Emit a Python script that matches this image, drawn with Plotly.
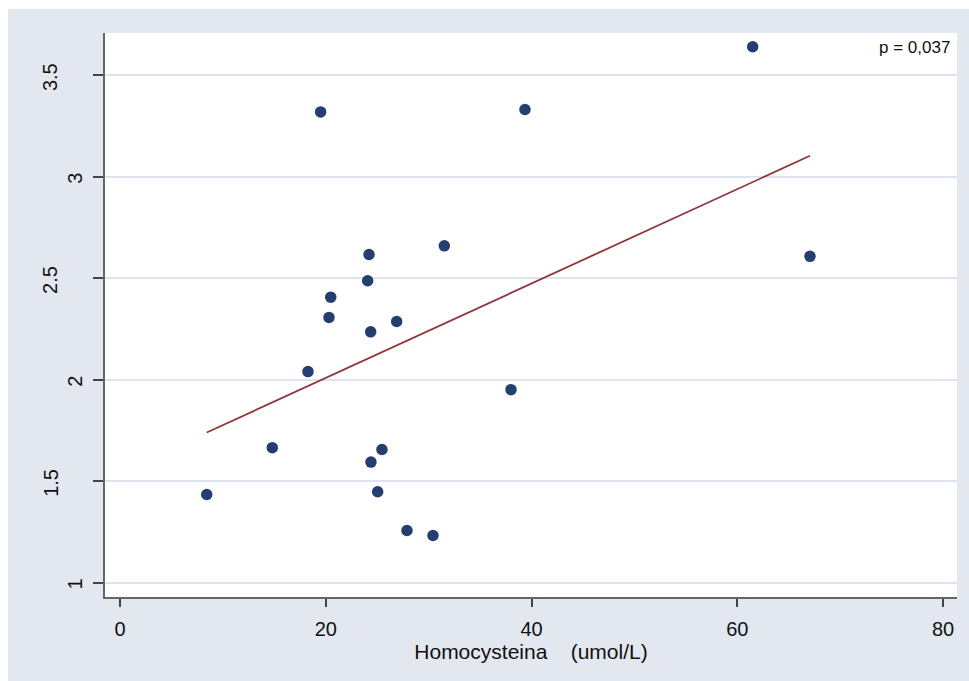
import numpy as np
import plotly.graph_objects as go

# Homocysteine (umol/L) vs. outcome measure, one point per subject
homocysteine = [8.43, 14.80, 18.27, 19.50, 20.31, 20.48, 24.07, 24.20, 24.36, 24.39,
                25.04, 25.46, 26.89, 27.89, 30.42, 31.52, 38.00, 39.36, 61.49, 67.06]
outcome = [1.434, 1.665, 2.040, 3.320, 2.307, 2.407, 2.488, 2.617, 2.236, 1.594,
           1.448, 1.656, 2.287, 1.257, 1.232, 2.660, 1.951, 3.332, 3.641, 2.608]

x_ticks = [0, 20, 40, 60, 80]
y_ticks = [1, 1.5, 2, 2.5, 3, 3.5]
y_tick_text = ["1", "1.5", "2", "2.5", "3", "3.5"]
p_label = "p = 0,037"
x_title = "Homocysteina\u00a0\u00a0\u00a0\u00a0(umol/L)"

# least-squares fit over the observed range
slope, intercept = np.polyfit(homocysteine, outcome, 1)
fit_x = np.array([min(homocysteine), max(homocysteine)])
fit_y = intercept + slope * fit_x

BG = "#e2e7f0"
GRID = "#dfe3ed"
NAVY = "#243f6f"
MAROON = "#90353b"
FONT = "Liberation Sans, Arial, sans-serif"

fig = go.Figure()
fig.add_trace(go.Scatter(
    x=homocysteine, y=outcome, mode="markers",
    marker=dict(color=NAVY, size=11.5, line=dict(width=0)),
    showlegend=False, hoverinfo="x+y"))
fig.add_trace(go.Scatter(
    x=fit_x, y=fit_y, mode="lines",
    line=dict(color=MAROON, width=1.8),
    showlegend=False, hoverinfo="skip"))

# rotated y tick labels, written as annotations so that each sits like the original
annotations = []
for v, t in zip(y_ticks, y_tick_text):
    centre = 75 - (len(t) - 1) * 12.15
    annotations.append(dict(
        x=0, xref="paper", y=v, yref="y", text=t, showarrow=False,
        textangle=-90, xanchor="center", yanchor="middle",
        xshift=centre - 105, yshift=-2,
        font=dict(family=FONT, size=20, color="#111111")))
annotations.append(dict(
    x=0.9941, xref="paper", y=0.974, yref="paper", text=p_label, showarrow=False,
    xanchor="right", yanchor="middle",
    font=dict(family=FONT, size=17, color="#111111")))

fig.update_layout(
    width=969, height=681,
    margin=dict(l=105, r=12, t=33, b=84),
    paper_bgcolor=BG, plot_bgcolor="white",
    font=dict(family=FONT, size=19, color="#111111"),
    annotations=annotations,
    shapes=[
        dict(type="rect", xref="paper", yref="paper", x0=-0.2, x1=1.1,
             y0=1.04255, y1=1.2, fillcolor="white", line=dict(width=0), layer="below"),
        dict(type="rect", xref="paper", yref="paper", x0=-0.2, x1=-0.11385,
             y0=-0.2, y1=1.2, fillcolor="white", line=dict(width=0), layer="below"),
    ],
    xaxis=dict(
        range=[-1.46, 81.35], tickvals=x_ticks, ticktext=[str(v) for v in x_ticks],
        showgrid=False, zeroline=False, showline=True, linecolor="#666666", linewidth=1.5,
        ticks="outside", ticklen=8, tickwidth=1.5, tickcolor="#444444",
        ticklabelstandoff=5,
        tickfont=dict(family=FONT, size=20, color="#111111"),
        title=dict(text=x_title, font=dict(family=FONT, size=21, color="#111111"), standoff=2),
    ),
    yaxis=dict(
        range=[0.929, 3.709], tickvals=y_ticks, showticklabels=False,
        showgrid=True, gridcolor=GRID, gridwidth=1.5, zeroline=False,
        showline=True, linecolor="#666666", linewidth=1.5,
        ticks="outside", ticklen=10, tickwidth=1.5, tickcolor="#444444",
    ),
)

fig.write_html("out.html")
